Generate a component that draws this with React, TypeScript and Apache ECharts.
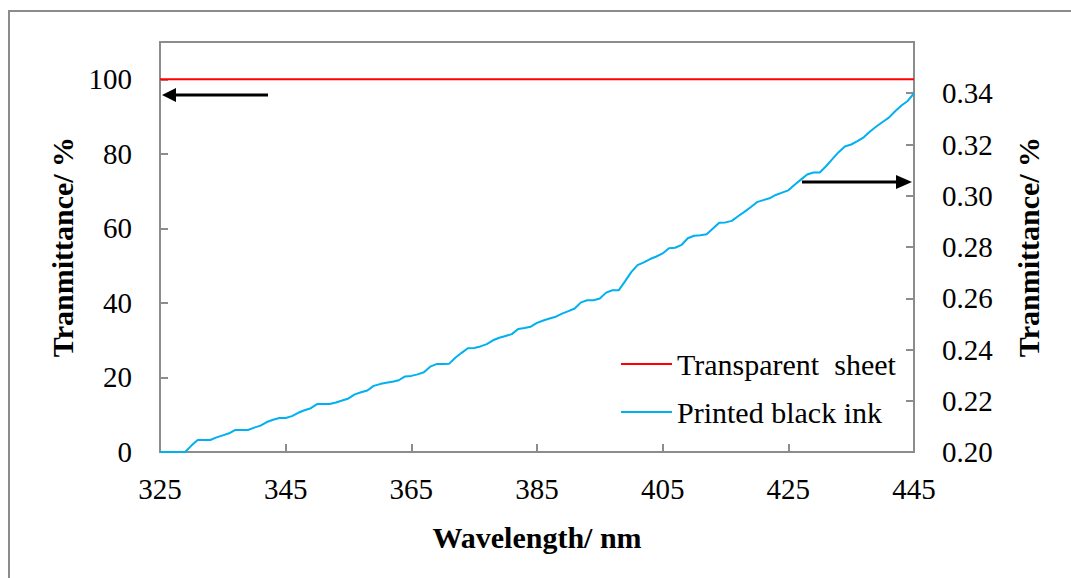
import React, { useEffect, useRef } from "react";
import * as echarts from "echarts";

const wavelengths = [
  325, 326, 327, 328, 329, 330, 331, 332, 333, 334, 335, 336, 337, 338, 339, 340,
  341, 342, 343, 344, 345, 346, 347, 348, 349, 350, 351, 352, 353, 354, 355, 356,
  357, 358, 359, 360, 361, 362, 363, 364, 365, 366, 367, 368, 369, 370, 371, 372,
  373, 374, 375, 376, 377, 378, 379, 380, 381, 382, 383, 384, 385, 386, 387, 388,
  389, 390, 391, 392, 393, 394, 395, 396, 397, 398, 399, 400, 401, 402, 403, 404,
  405, 406, 407, 408, 409, 410, 411, 412, 413, 414, 415, 416, 417, 418, 419, 420,
  421, 422, 423, 424, 425, 426, 427, 428, 429, 430, 431, 432, 433, 434, 435, 436,
  437, 438, 439, 440, 441, 442, 443, 444, 445,
];

const printedBlackInk = [
  0.2, 0.2, 0.2, 0.2, 0.2, 0.2025, 0.2047, 0.2047, 0.2047, 0.2057, 0.2065, 0.2073,
  0.2086, 0.2086, 0.2086, 0.2095, 0.2103, 0.2117, 0.2126, 0.2133, 0.2133, 0.214,
  0.2153, 0.2163, 0.2171, 0.2187, 0.2187, 0.2187, 0.2193, 0.2201, 0.2209, 0.2225,
  0.2233, 0.224, 0.2258, 0.2265, 0.227, 0.2274, 0.228, 0.2295, 0.2297, 0.2303,
  0.2311, 0.2333, 0.2343, 0.2343, 0.2344, 0.2368, 0.2387, 0.2405, 0.2406, 0.2412,
  0.2421, 0.2436, 0.2446, 0.2453, 0.246, 0.248, 0.2484, 0.2489, 0.2504, 0.2513,
  0.2521, 0.2528, 0.254, 0.255, 0.256, 0.2584, 0.2592, 0.2592, 0.2599, 0.2622,
  0.2631, 0.2631, 0.2666, 0.2702, 0.2729, 0.274, 0.2753, 0.2763, 0.2775, 0.2795,
  0.2797, 0.2808, 0.2834, 0.2844, 0.2846, 0.285, 0.2872, 0.2895, 0.2896, 0.2902,
  0.292, 0.2937, 0.2955, 0.2975, 0.2983, 0.299, 0.3003, 0.3012, 0.3021, 0.3043,
  0.3063, 0.3083, 0.3091, 0.3091, 0.3115, 0.3143, 0.317, 0.3192, 0.32, 0.3213,
  0.3228, 0.3251, 0.327, 0.3288, 0.3305, 0.333, 0.3352, 0.337, 0.34,
];

const transparentWavelengths = [325, 445];
const transparentSheet = [100, 100];

const xTicks = { min: 325, max: 445, interval: 20 };
const leftTicks = { min: 0, max: 110, interval: 20 };
const rightTicks = { min: 0.2, max: 0.36, interval: 0.02 };

const FONT = '"Liberation Serif", "Times New Roman", serif';
const AXIS_GRAY = "#8c8c8c";

export default function App() {
  const ref = useRef<HTMLDivElement>(null);

  useEffect(() => {
    if (!ref.current) return;
    const chart = echarts.init(ref.current, undefined, { renderer: "svg" });

    const inkData = wavelengths.map((w, i) => [w, printedBlackInk[i]]);
    const sheetData = transparentWavelengths.map((w, i) => [w, transparentSheet[i]]);

    const axisCommon = {
      axisLine: { show: true, lineStyle: { color: AXIS_GRAY, width: 2 } },
      axisTick: { show: true, inside: true, length: 8, lineStyle: { color: AXIS_GRAY, width: 2 } },
      splitLine: { show: false },
      nameTextStyle: { fontFamily: FONT, fontSize: 30, fontWeight: "bold", color: "#000" },
    };

    const option: any = {
      animation: false,
      backgroundColor: "#fff",
      textStyle: { fontFamily: FONT },
      grid: {
        left: 160,
        right: 157,
        top: 42,
        bottom: 126,
        show: true,
        borderColor: AXIS_GRAY,
        borderWidth: 2,
        containLabel: false,
      },
      legend: {
        orient: "vertical",
        left: 616,
        top: 344,
        icon: "rect",
        itemWidth: 51,
        itemHeight: 2,
        itemGap: 18,
        textStyle: { fontFamily: FONT, fontSize: 30, color: "#000" },
        data: ["Transparent  sheet", "Printed black ink"],
      },
      xAxis: {
        type: "value",
        min: xTicks.min,
        max: xTicks.max,
        interval: xTicks.interval,
        name: "Wavelength/ nm",
        nameLocation: "middle",
        nameGap: 70,
        ...axisCommon,
        axisLabel: { fontFamily: FONT, fontSize: 29, color: "#000", margin: 22 },
      },
      yAxis: [
        {
          type: "value",
          position: "left",
          min: leftTicks.min,
          max: leftTicks.max,
          interval: leftTicks.interval,
          name: "Tranmittance/ %",
          nameLocation: "middle",
          nameGap: 83,
          ...axisCommon,
          axisLabel: {
            fontFamily: FONT,
            fontSize: 29,
            color: "#000",
            margin: 28,
            formatter: (v: number) => (v > 100 ? "" : String(v)),
          },
        },
        {
          type: "value",
          position: "right",
          min: rightTicks.min,
          max: rightTicks.max,
          interval: rightTicks.interval,
          name: "Tranmittance/ %",
          nameLocation: "middle",
          nameGap: 99,
          ...axisCommon,
          axisLabel: {
            fontFamily: FONT,
            fontSize: 29,
            color: "#000",
            margin: 28,
            formatter: (v: number) => (v > 0.345 ? "" : v.toFixed(2)),
          },
        },
      ],
      series: [
        {
          name: "Transparent  sheet",
          type: "line",
          yAxisIndex: 0,
          data: sheetData,
          symbol: "none",
          lineStyle: { color: "#ff0000", width: 2 },
          itemStyle: { color: "#ff0000" },
        },
        {
          name: "Printed black ink",
          type: "line",
          yAxisIndex: 1,
          data: inkData,
          symbol: "none",
          lineStyle: { color: "#00b0f0", width: 2 },
          itemStyle: { color: "#00b0f0" },
        },
      ],
      graphic: [
        {
          type: "rect",
          shape: { x: 9, y: 11, width: 1200, height: 700 },
          style: { fill: "none", stroke: "#8c8c8c", lineWidth: 2 },
          silent: true,
        },
        {
          type: "line",
          shape: { x1: 174, y1: 95, x2: 268, y2: 95 },
          style: { stroke: "#000", lineWidth: 3 },
        },
        {
          type: "polygon",
          shape: { points: [[162, 95], [176, 88], [176, 102]] },
          style: { fill: "#000" },
        },
        {
          type: "line",
          shape: { x1: 802, y1: 182, x2: 898, y2: 182 },
          style: { stroke: "#000", lineWidth: 3 },
        },
        {
          type: "polygon",
          shape: { points: [[912, 182], [896, 175], [896, 189]] },
          style: { fill: "#000" },
        },
      ],
    };

    chart.setOption(option);
    return () => chart.dispose();
  }, []);

  return (
    <div
      ref={ref}
      style={{ position: "fixed", left: 0, top: 0, width: 1071, height: 578, background: "#fff" }}
    />
  );
}
